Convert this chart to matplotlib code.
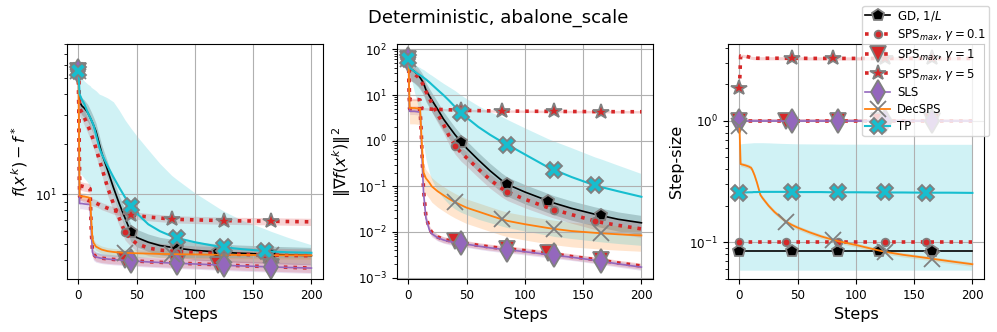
import numpy as np
import matplotlib.pyplot as plt

# iteration grid shared by all series
steps = [0, 1, 3, 5, 8, 10, 11, 12, 13, 15, 18, 20, 25, 30, 35, 40, 45, 50,
         60, 70, 80, 85, 100, 120, 125, 140, 160, 165, 180, 200]

labels = ['GD, $1/L$', r'SPS$_{max}$, $\gamma=0.1$', r'SPS$_{max}$, $\gamma=1$',
          r'SPS$_{max}$, $\gamma=5$', 'SLS', 'DecSPS', 'TP']
colors = ['black', 'tab:red', 'tab:red', 'tab:red', 'tab:purple', 'tab:orange', 'tab:cyan']
markers = ['p', 'o', 'v', '*', 'd', 'x', 'X']
marker_steps = [[0, 45, 85, 120, 165],
                [0, 40, 85, 125, 160],
                [0, 40, 85, 120, 165],
                [0, 45, 80, 125, 165],
                [0, 45, 85, 125, 165],
                [0, 40, 80, 125, 165],
                [0, 45, 85, 125, 160]]

# f(x^k) - f^*
loss_gd = [55, 36, 34, 33, 31, 29, 28, 27, 26, 24, 20, 17.7, 14, 11, 8.8, 7.2, 5.9, 5.5,
           5.15, 4.92, 4.8, 4.74, 4.6, 4.5, 4.47, 4.42, 4.37, 4.35, 4.32, 4.28]
loss_sps01 = [55, 33, 31, 29, 26, 24, 23, 22, 21, 19, 16, 14.5, 11, 8.8, 7.2, 5.9, 5.4, 5.05,
              4.75, 4.62, 4.55, 4.52, 4.45, 4.4, 4.38, 4.35, 4.32, 4.31, 4.29, 4.27]
loss_sps1 = [55, 11.3, 11.2, 11.1, 11.0, 10.8, 6.0, 4.6, 4.35, 4.22, 4.16, 4.13, 4.09, 4.06, 4.04,
             4.01, 3.99, 3.97, 3.93, 3.9, 3.87, 3.86, 3.82, 3.77, 3.76, 3.72, 3.68, 3.67, 3.64, 3.6]
loss_sps5 = [55, 9.7, 9.6, 9.4, 9.2, 9.1, 9.05, 9.0, 8.95, 8.85, 8.65, 8.5, 8.25, 8.0, 7.85, 7.7,
             7.55, 7.45, 7.3, 7.2, 7.1, 7.07, 7.02, 6.96, 6.95, 6.92, 6.9, 6.89, 6.86, 6.83]
loss_sls = [55, 8.8, 8.8, 8.75, 8.7, 8.7, 6.0, 4.5, 4.3, 4.2, 4.15, 4.12, 4.08, 4.05, 4.03, 4.0,
            3.98, 3.96, 3.92, 3.89, 3.86, 3.85, 3.81, 3.76, 3.74, 3.71, 3.67, 3.66, 3.63, 3.6]
loss_dec = [55, 9.8, 9.7, 9.7, 9.6, 9.5, 7.0, 5.4, 5.1, 4.85, 4.72, 4.65, 4.55, 4.5, 4.47, 4.45,
            4.43, 4.42, 4.4, 4.38, 4.37, 4.36, 4.35, 4.33, 4.33, 4.32, 4.31, 4.3, 4.3, 4.29]
loss_tp = [55, 40, 37, 35, 31, 29, 28, 27, 26, 23, 19, 17.5, 14.8, 12.7, 11, 9.6, 8.5, 7.7,
           6.6, 6.0, 5.6, 5.45, 5.15, 4.85, 4.8, 4.68, 4.56, 4.53, 4.48, 4.45]
loss_tp_lo = [55, 13.4, 13, 12.5, 11.8, 11, 7, 5, 4.6, 4.4, 4.3, 4.27, 4.24, 4.22, 4.21, 4.2,
              4.2, 4.19, 4.19, 4.18, 4.18, 4.18, 4.17, 4.17, 4.17, 4.16, 4.16, 4.16, 4.15, 4.15]
loss_tp_hi = [55, 52, 50, 48, 46, 45, 44, 43.5, 43, 42, 40, 39.5, 38, 36, 32, 28, 25, 22.5,
              18.5, 15.3, 13, 12.2, 10.2, 8.3, 7.9, 7.0, 6.2, 6.0, 5.5, 4.97]
loss_spread = [0.12, 0.10, 0.06, 0.05, 0.07, 0.05]

# ||grad f(x^k)||^2
grad_gd = [60, 38, 36, 33, 28, 24, 22, 20, 18, 13, 9.5, 7.8, 4.9, 3.0, 2.0, 1.35, 0.95, 0.68,
           0.38, 0.22, 0.135, 0.11, 0.075, 0.048, 0.043, 0.033, 0.0245, 0.023, 0.019, 0.0159]
grad_sps01 = [60, 32, 31, 29, 25, 22, 20, 18, 16, 12, 8.5, 6.6, 3.8, 2.3, 1.25, 0.78, 0.55, 0.42,
              0.24, 0.14, 0.09, 0.075, 0.052, 0.034, 0.031, 0.024, 0.0175, 0.0163, 0.014, 0.0117]
grad_sps1 = [60, 5.0, 5.0, 5.0, 5.0, 4.9, 1.5, 0.3, 0.08, 0.022, 0.012, 0.0098, 0.0078, 0.0069,
             0.0065, 0.0062, 0.0059, 0.0056, 0.0051, 0.0047, 0.0044, 0.0043, 0.0039, 0.0034,
             0.0033, 0.0029, 0.0025, 0.0024, 0.0021, 0.0018]
grad_sps5 = [60, 8, 8, 8, 8, 7.8, 5.2, 5.1, 5.05, 5.0, 4.95, 4.9, 4.85, 4.8, 4.75, 4.7, 4.65, 4.6,
             4.55, 4.5, 4.48, 4.46, 4.42, 4.38, 4.37, 4.35, 4.33, 4.32, 4.31, 4.3]
grad_sls = [60, 4.4, 4.4, 4.4, 4.3, 4.2, 1.2, 0.25, 0.07, 0.02, 0.011, 0.0092, 0.0075, 0.0067,
            0.0062, 0.0059, 0.0056, 0.0054, 0.0049, 0.0045, 0.0042, 0.0041, 0.0037, 0.0032,
            0.0031, 0.0028, 0.0024, 0.0023, 0.002, 0.0017]
grad_dec = [60, 5.2, 5.2, 5.2, 5.1, 5.0, 1.5, 0.5, 0.2, 0.15, 0.12, 0.1, 0.078, 0.064, 0.053,
            0.045, 0.039, 0.034, 0.028, 0.023, 0.019, 0.0175, 0.0148, 0.0122, 0.0117, 0.0105,
            0.0096, 0.0094, 0.0089, 0.0084]
grad_tp = [60, 40, 36, 33, 29, 27, 26, 25, 24, 22, 19, 17, 13, 10, 7.5, 5.5, 4.1, 3.2, 2.0,
           1.35, 0.95, 0.82, 0.5, 0.26, 0.23, 0.16, 0.105, 0.097, 0.078, 0.059]
grad_tp_lo = [60, 30, 20, 12, 6, 3.5, 2, 1.2, 0.8, 0.4, 0.2, 0.14, 0.08, 0.055, 0.04, 0.032,
              0.027, 0.024, 0.019, 0.016, 0.0135, 0.0125, 0.0105, 0.0085, 0.008, 0.0072,
              0.0063, 0.0061, 0.0056, 0.0051]
grad_tp_hi = [60, 55, 50, 47, 42, 40, 38, 37, 36, 33, 29, 27, 22, 18, 15, 12.5, 10, 8.3, 5.8,
              4.3, 3.4, 2.9, 1.9, 1.1, 0.98, 0.7, 0.44, 0.4, 0.29, 0.19]
grad_spread = [0.45, 0.35, 0.15, 0.06, 0.15, 0.55]

# step-size
ss_gd = [0.0855] * len(steps)
ss_sps01 = [0.1] * len(steps)
ss_sps1 = [1.0] * len(steps)
ss_sps5 = [1.86, 3.42, 3.42, 3.4, 3.35, 3.3, 3.29, 3.28, 3.28, 3.27, 3.27, 3.27, 3.27, 3.27,
           3.27, 3.27, 3.27, 3.27, 3.26, 3.26, 3.26, 3.26, 3.26, 3.26, 3.26, 3.26, 3.26, 3.26,
           3.26, 3.26]
ss_sls = [1.0] * len(steps)
ss_dec = [0.91, 0.44, 0.435, 0.43, 0.42, 0.41, 0.395, 0.375, 0.355, 0.31, 0.245, 0.23, 0.2,
          0.178, 0.162, 0.148, 0.139, 0.132, 0.121, 0.112, 0.105, 0.102, 0.095, 0.0855, 0.0835,
          0.079, 0.0745, 0.0733, 0.07, 0.066]
ss_tp = [0.253, 0.255, 0.256, 0.257, 0.258, 0.258, 0.258, 0.259, 0.259, 0.259, 0.26, 0.26,
         0.26, 0.26, 0.26, 0.26, 0.26, 0.259, 0.259, 0.259, 0.258, 0.258, 0.258, 0.257, 0.257,
         0.257, 0.256, 0.256, 0.256, 0.255]
ss_tp_lo = [0.059] * len(steps)
ss_tp_hi = [0.64, 0.645, 0.65, 0.652, 0.655, 0.657, 0.658, 0.66, 0.66, 0.66, 0.66, 0.66, 0.658,
            0.655, 0.652, 0.65, 0.648, 0.646, 0.645, 0.644, 0.643, 0.642, 0.642, 0.641, 0.641,
            0.64, 0.64, 0.64, 0.64, 0.64]
ss_spread = [0.0, 0.0, 0.03, 0.03, 0.03, 0.04]

panels = [
    ([loss_gd, loss_sps01, loss_sps1, loss_sps5, loss_sls, loss_dec, loss_tp],
     loss_spread, loss_tp_lo, loss_tp_hi, r'$f(x^k) - f^*$', (3.1, 80)),
    ([grad_gd, grad_sps01, grad_sps1, grad_sps5, grad_sls, grad_dec, grad_tp],
     grad_spread, grad_tp_lo, grad_tp_hi, r'$\|\nabla f(x^k)\|^2$', (9.4e-4, 130)),
    ([ss_gd, ss_sps01, ss_sps1, ss_sps5, ss_sls, ss_dec, ss_tp],
     ss_spread, ss_tp_lo, ss_tp_hi, 'Step-size', (0.05, 4.27)),
]

styles = [dict(ls='-', lw=1.2, ms=9),
          dict(ls=':', lw=2.6, ms=5.5),
          dict(ls=':', lw=2.6, ms=11),
          dict(ls=':', lw=2.6, ms=11.5),
          dict(ls='-', lw=1.2, ms=12),
          dict(ls='-', lw=1.3, ms=11),
          dict(ls='-', lw=1.5, ms=11)]

fig = plt.figure(figsize=(9.97, 3.32), dpi=100)
lefts = [0.067, 0.398, 0.730]
x = np.array(steps)

handles = []
for k, (series, spread, tp_lo, tp_hi, ylab, ylim) in enumerate(panels):
    ax = fig.add_axes([lefts[k], 0.16, 0.257, 0.707])
    ax.set_yscale('log')
    for i, y in enumerate(series):
        y = np.array(y, dtype=float)
        idx = [steps.index(s) for s in marker_steps[i]]
        st = styles[i]
        mfc = 'grey' if markers[i] == 'x' else colors[i]
        line, = ax.plot(x, y, color=colors[i], ls=st['ls'], lw=st['lw'],
                        marker=markers[i], ms=st['ms'], markevery=idx,
                        mfc=mfc, mec='grey', mew=1.3, label=labels[i])
        if i == 6:
            ax.fill_between(x, tp_lo, tp_hi, color=colors[i], alpha=0.2, lw=0)
        elif spread[i] > 0:
            ax.fill_between(x, y * (1 - spread[i]), y * (1 + spread[i]),
                            color=colors[i], alpha=0.2, lw=0)
        if k == 2:
            handles.append(line)
    ax.set_ylim(*ylim)
    ax.set_xticks([0, 50, 100, 150, 200])
    ax.grid(True)
    ax.tick_params(labelsize=8.6)
    ax.set_xlabel('Steps', fontsize=11.5)
    ax.set_ylabel(ylab, fontsize=11.5)

fig.suptitle('Deterministic, abalone_scale', fontsize=13, y=0.975)
fig.legend(handles, labels, loc='upper right', fontsize=8.5, labelspacing=0.33,
           borderpad=0.25, handlelength=2.1, handletextpad=0.6,
           bbox_to_anchor=(0.998, 1.0))

plt.savefig('out.png', dpi=100)
